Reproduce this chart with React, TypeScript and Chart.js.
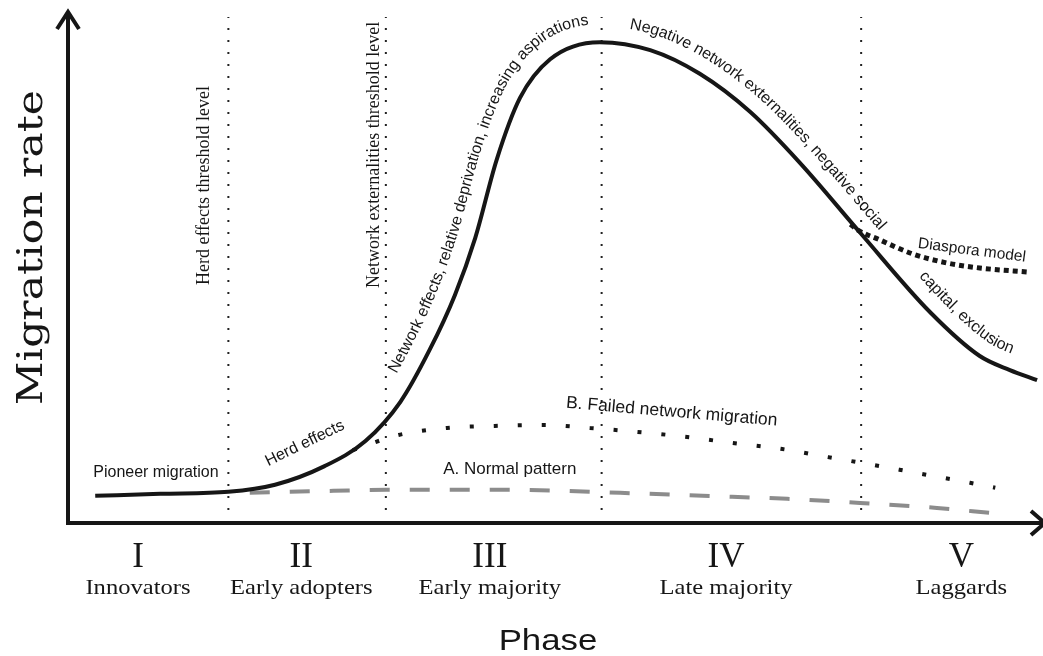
import React, { useEffect, useRef } from "react";
import { Chart, registerables } from "chart.js";

Chart.register(...registerables);

// x: position along the diffusion timeline (0–100), y: migration rate (0–100)
const mainX = [2.8, 9.5, 16.5, 21.3, 26.4, 30.6, 34.2, 37.2, 39.8, 41.9, 44.1, 46.5, 49.6, 54.7, 59.9, 65.0, 70.2, 75.3, 81.5, 88.7, 93.8, 96.9, 99.7];
const mainY = [5.4, 5.8, 6.2, 7.6, 11.3, 16.3, 24.1, 34.4, 45.3, 56.7, 72.2, 84.5, 92.2, 95.6, 94.0, 89.3, 81.7, 71.6, 57.7, 41.9, 33.2, 30.4, 28.4];

const failedX = [29.3, 34.0, 39.0, 43.9, 48.8, 53.7, 58.6, 63.7, 68.4, 73.5, 78.2, 83.0, 88.0, 92.8, 95.4];
const failedY = [14.5, 17.5, 18.9, 19.3, 19.5, 18.9, 18.1, 17.1, 15.9, 14.7, 13.1, 11.5, 9.7, 8.0, 7.0];

const normalX = [18.7, 27.3, 32.8, 45.5, 56.8, 65.3, 74.0, 81.5, 89.4, 94.9];
const normalY = [6.0, 6.4, 6.6, 6.6, 6.0, 5.4, 4.8, 4.0, 3.0, 2.0];

const diasporaX = [80.5, 81.2, 83.5, 86.9, 90.4, 93.8, 98.7];
const diasporaY = [59.4, 58.3, 56.3, 53.5, 51.7, 50.7, 49.9];

const thresholds = [16.5, 32.7, 54.9, 81.6];
const thresholdSpan = [2.6, 100.6];

const phaseNumerals = ["I", "II", "III", "IV", "V"];
const phaseNames = ["Innovators", "Early adopters", "Early majority", "Late majority", "Laggards"];
const phaseCenters = [7.2, 24.0, 43.4, 67.7, 91.9];

const INK = "#161616";

function pts(xs: number[], ys: number[]) {
  return xs.map((x, i) => ({ x, y: ys[i] }));
}

function drawText(
  ctx: CanvasRenderingContext2D,
  text: string,
  x: number,
  y: number,
  font: string,
  angle = 0,
  sx = 1,
  align: CanvasTextAlign = "left"
) {
  ctx.save();
  ctx.translate(x, y);
  ctx.rotate((angle * Math.PI) / 180);
  ctx.scale(sx, 1);
  ctx.font = font;
  ctx.textAlign = align;
  ctx.textBaseline = "alphabetic";
  ctx.fillStyle = INK;
  ctx.fillText(text, 0, 0);
  ctx.restore();
}

function sampleCurve(chart: any, idx: number) {
  const els = chart.getDatasetMeta(idx).data as any[];
  const out: { x: number; y: number }[] = [];
  for (let i = 0; i < els.length - 1; i++) {
    const a = els[i];
    const b = els[i + 1];
    const c1x = a.cp2x ?? a.x;
    const c1y = a.cp2y ?? a.y;
    const c2x = b.cp1x ?? b.x;
    const c2y = b.cp1y ?? b.y;
    const N = 30;
    for (let k = 0; k < N; k++) {
      const t = k / N;
      const mt = 1 - t;
      out.push({
        x: mt * mt * mt * a.x + 3 * mt * mt * t * c1x + 3 * mt * t * t * c2x + t * t * t * b.x,
        y: mt * mt * mt * a.y + 3 * mt * mt * t * c1y + 3 * mt * t * t * c2y + t * t * t * b.y,
      });
    }
  }
  const last = els[els.length - 1];
  out.push({ x: last.x, y: last.y });
  return out;
}

function textOnCurve(
  ctx: CanvasRenderingContext2D,
  base: { x: number; y: number }[],
  text: string,
  startPx: number,
  offset: number,
  font: string
) {
  const q = base.map((p, i) => {
    const a = base[Math.max(0, i - 2)];
    const b = base[Math.min(base.length - 1, i + 2)];
    const tx = b.x - a.x;
    const ty = b.y - a.y;
    const len = Math.hypot(tx, ty) || 1;
    return { x: p.x + (ty / len) * offset, y: p.y + (-tx / len) * offset };
  });
  const cum = [0];
  for (let i = 1; i < q.length; i++) cum.push(cum[i - 1] + Math.hypot(q[i].x - q[i - 1].x, q[i].y - q[i - 1].y));
  let startIdx = base.findIndex((p) => p.x >= startPx);
  if (startIdx < 0) startIdx = 0;
  const at = (s: number) => {
    let i = 1;
    while (i < cum.length - 1 && cum[i] < s) i++;
    const s0 = cum[i - 1];
    const s1 = cum[i];
    const t = s1 > s0 ? (s - s0) / (s1 - s0) : 0;
    return { x: q[i - 1].x + (q[i].x - q[i - 1].x) * t, y: q[i - 1].y + (q[i].y - q[i - 1].y) * t };
  };
  ctx.save();
  ctx.font = font;
  ctx.fillStyle = INK;
  ctx.textAlign = "left";
  ctx.textBaseline = "alphabetic";
  let s = cum[startIdx];
  for (let i = 0; i < text.length; i++) {
    const w = ctx.measureText(text.slice(0, i + 1)).width - ctx.measureText(text.slice(0, i)).width;
    const p0 = at(s);
    const p1 = at(s + Math.max(w, 1));
    const ang = Math.atan2(p1.y - p0.y, p1.x - p0.x);
    ctx.save();
    ctx.translate(p0.x, p0.y);
    ctx.rotate(ang);
    ctx.fillText(text[i], 0, 0);
    ctx.restore();
    s += w;
  }
  ctx.restore();
}

const decorPlugin = {
  id: "decor",
  afterDatasetsDraw(chart: any) {
    const ctx: CanvasRenderingContext2D = chart.ctx;
    const xs = chart.scales.x;
    const ys = chart.scales.y;
    const { left, right, top, bottom } = chart.chartArea;
    const X = (v: number) => xs.getPixelForValue(v);
    const Y = (v: number) => ys.getPixelForValue(v);

    // axes with open arrowheads
    ctx.save();
    ctx.strokeStyle = INK;
    ctx.lineWidth = 4;
    ctx.lineCap = "butt";
    ctx.lineJoin = "miter";
    ctx.beginPath();
    ctx.moveTo(left, bottom + 2);
    ctx.lineTo(left, top - 8);
    ctx.moveTo(left - 2, bottom);
    ctx.lineTo(right + 5, bottom);
    ctx.stroke();
    ctx.beginPath();
    ctx.moveTo(left - 11, top + 9);
    ctx.lineTo(left, top - 8);
    ctx.lineTo(left + 11, top + 9);
    ctx.moveTo(right - 9, bottom - 12);
    ctx.lineTo(right + 5, bottom);
    ctx.lineTo(right - 9, bottom + 12);
    ctx.stroke();
    ctx.restore();

    // axis titles
    drawText(ctx, "Migration rate", 42, (top + bottom) / 2 - 24, "36px 'DejaVu Serif'", -90, 1.18, "center");
    drawText(ctx, "Phase", (left + right) / 2 - 6, bottom + 127, "29px 'Liberation Sans'", 0, 1.2, "center");

    // phase labels
    phaseCenters.forEach((c, i) => {
      drawText(ctx, phaseNumerals[i], X(c), bottom + 44, "35px 'Liberation Serif'", 0, 1, "center");
      drawText(ctx, phaseNames[i], X(c), bottom + 71, "21px 'Liberation Serif'", 0, 1.17, "center");
    });

    // threshold labels
    drawText(ctx, "Herd effects threshold level", X(14.5), Y(47.3), "18px 'Liberation Serif'", -90);
    drawText(ctx, "Network externalities threshold level", X(32.0), Y(46.7), "18px 'Liberation Serif'", -90);

    // straight annotations
    drawText(ctx, "Pioneer migration", X(2.6), Y(9.15), "16px 'Liberation Sans'");
    drawText(ctx, "Herd effects", X(20.6), Y(11.3), "16px 'Liberation Sans'", -26);
    drawText(ctx, "A. Normal pattern", X(38.6), Y(9.7), "17px 'Liberation Sans'");
    drawText(ctx, "B. Failed network migration", X(51.2), Y(22.9), "17.5px 'Liberation Sans'", 4.8);
    drawText(ctx, "Diaspora model", X(87.4), Y(54.7), "15.5px 'Liberation Sans'", 7.3);

    // annotations following the main curve
    const base = sampleCurve(chart, 0);
    textOnCurve(ctx, base, "Network effects, relative deprivation, increasing aspirations", X(35.4), 18, "16px 'Liberation Sans'");
    textOnCurve(ctx, base, "Negative network externalities, negative social", X(57.4), 16, "16px 'Liberation Sans'");
    textOnCurve(ctx, base, "capital, exclusion", X(86.2), 16, "16px 'Liberation Sans'");
  },
};

export default function App() {
  const ref = useRef<HTMLCanvasElement>(null);
  useEffect(() => {
    if (!ref.current) return;
    const thresholdSets = thresholds.map((t) => ({
      data: thresholdSpan.map((y) => ({ x: t, y })),
      borderColor: "#222",
      borderWidth: 2,
      borderDash: [2, 10],
      borderCapStyle: "butt" as const,
      pointRadius: 0,
      fill: false,
      clip: false as const,
      order: 5,
    }));
    const chart = new Chart(ref.current, {
      type: "line",
      data: {
        datasets: [
          {
            label: "Main",
            data: pts(mainX, mainY),
            borderColor: INK,
            borderWidth: 4,
            pointRadius: 0,
            cubicInterpolationMode: "monotone",
            fill: false,
            order: 0,
          },
          {
            label: "B. Failed network migration",
            data: pts(failedX, failedY),
            borderColor: INK,
            borderWidth: 4,
            borderDash: [4, 20],
            borderCapStyle: "butt",
            pointRadius: 0,
            cubicInterpolationMode: "monotone",
            fill: false,
            order: 2,
          },
          {
            label: "A. Normal pattern",
            data: pts(normalX, normalY),
            borderColor: "#8c8c8c",
            borderWidth: 4,
            borderDash: [20, 20],
            borderCapStyle: "butt",
            pointRadius: 0,
            cubicInterpolationMode: "monotone",
            fill: false,
            order: 3,
          },
          {
            label: "Diaspora model",
            data: pts(diasporaX, diasporaY),
            borderColor: INK,
            borderWidth: 5,
            borderDash: [5, 4],
            borderCapStyle: "butt",
            pointRadius: 0,
            cubicInterpolationMode: "monotone",
            fill: false,
            order: 1,
          },
          ...thresholdSets,
        ],
      },
      options: {
        animation: false,
        responsive: true,
        maintainAspectRatio: false,
        layout: { padding: { left: 68, right: 3, top: 20, bottom: 133 } },
        scales: {
          x: { type: "linear", min: 0, max: 100, display: false },
          y: { type: "linear", min: 0, max: 100, display: false },
        },
        plugins: { legend: { display: false }, tooltip: { enabled: false } },
      },
      plugins: [decorPlugin],
    });
    return () => chart.destroy();
  }, []);
  return (
    <div style={{ position: "fixed", left: 0, top: 0, width: 1043, height: 656, background: "#fff" }}>
      <canvas ref={ref} />
    </div>
  );
}
